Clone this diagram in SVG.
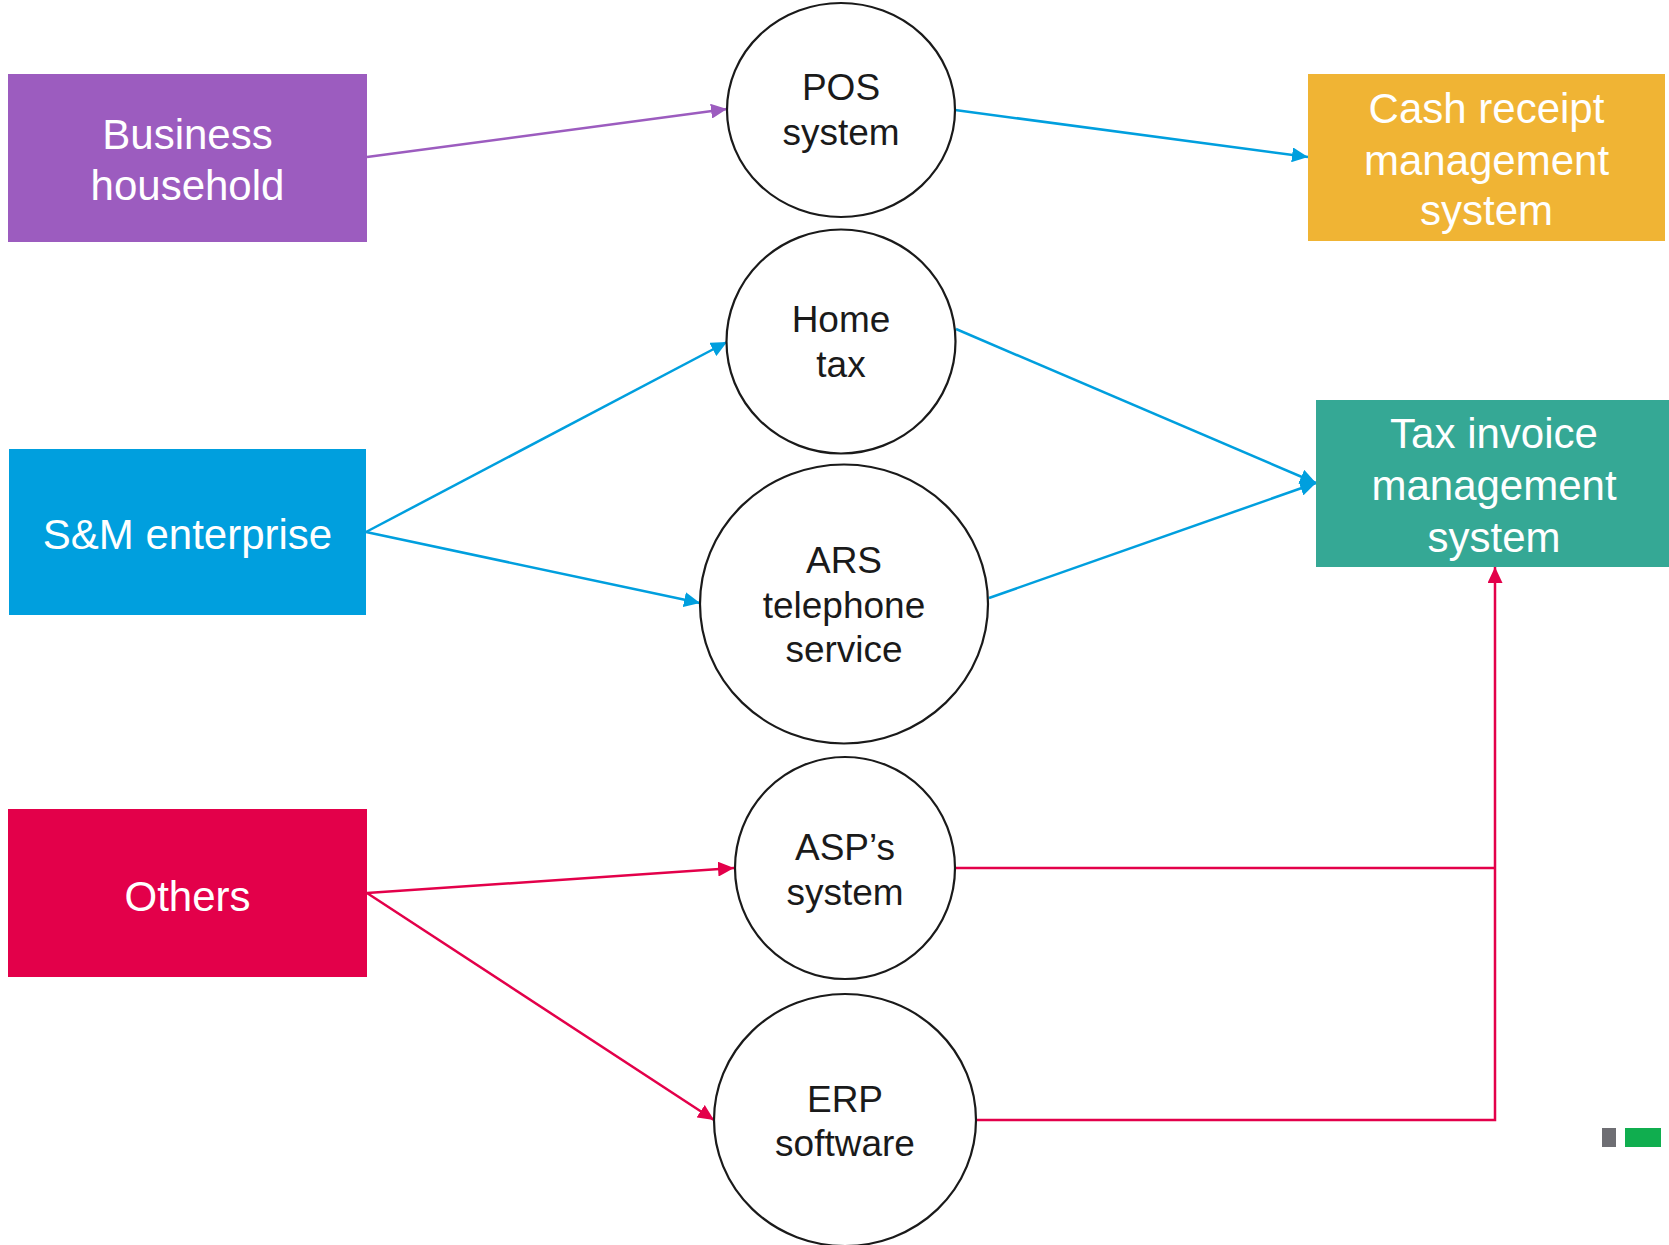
<svg xmlns="http://www.w3.org/2000/svg" width="1669" height="1245" viewBox="0 0 1669 1245">
  <style>
    .box-text { font-family: "Liberation Sans", Arial, sans-serif; font-size: 42px; fill: #ffffff; text-anchor: middle; }
    .node-text { font-family: "Liberation Sans", Arial, sans-serif; font-size: 37px; fill: #1a1a1a; text-anchor: middle; }
    .bubble { fill: #ffffff; stroke: #1a1a1a; stroke-width: 2.2; }
    .link { fill: none; stroke-width: 2.5; }
    .purple { stroke: #9c5cbf; }
    .blue { stroke: #009fde; }
    .red { stroke: #e3004a; }
  </style>
  <defs>
    <marker id="ah-purple" markerUnits="userSpaceOnUse" markerWidth="16" markerHeight="15" refX="16" refY="7.5" orient="auto">
      <path d="M0,0 L16,7.5 L0,15 z" fill="#9c5cbf"/>
    </marker>
    <marker id="ah-blue" markerUnits="userSpaceOnUse" markerWidth="16" markerHeight="15" refX="16" refY="7.5" orient="auto">
      <path d="M0,0 L16,7.5 L0,15 z" fill="#009fde"/>
    </marker>
    <marker id="ah-red" markerUnits="userSpaceOnUse" markerWidth="16" markerHeight="15" refX="16" refY="7.5" orient="auto">
      <path d="M0,0 L16,7.5 L0,15 z" fill="#e3004a"/>
    </marker>
  </defs>

  <rect width="1669" height="1245" fill="#ffffff"/>

  <!-- connectors -->
  <g id="connectors">
    <line class="link purple" x1="367" y1="157" x2="727" y2="109" marker-end="url(#ah-purple)"/>
    <line class="link blue" x1="955" y1="110" x2="1308" y2="157" marker-end="url(#ah-blue)"/>
    <line class="link blue" x1="366" y1="532" x2="727" y2="342" marker-end="url(#ah-blue)"/>
    <line class="link blue" x1="366" y1="532" x2="700" y2="603" marker-end="url(#ah-blue)"/>
    <line class="link blue" x1="956" y1="329" x2="1316" y2="483" marker-end="url(#ah-blue)"/>
    <line class="link blue" x1="989" y1="598" x2="1316" y2="483" marker-end="url(#ah-blue)"/>
    <line class="link red" x1="367" y1="893" x2="734" y2="868" marker-end="url(#ah-red)"/>
    <line class="link red" x1="367" y1="893" x2="714" y2="1120" marker-end="url(#ah-red)"/>
    <polyline class="link red" points="955,868 1495,868"/>
    <polyline class="link red" points="976,1120 1495,1120 1495,567" marker-end="url(#ah-red)"/>
  </g>

  <!-- source boxes -->
  <g id="business-household">
    <rect x="8" y="74" width="359" height="168" fill="#9c5cbf"/>
    <text class="box-text" x="187.5" y="149">Business</text>
    <text class="box-text" x="187.5" y="200">household</text>
  </g>
  <g id="sm-enterprise">
    <rect x="9" y="449" width="357" height="166" fill="#009fde"/>
    <text class="box-text" x="187.5" y="549">S&amp;M enterprise</text>
  </g>
  <g id="others">
    <rect x="8" y="809" width="359" height="168" fill="#e3004a"/>
    <text class="box-text" x="187.5" y="911">Others</text>
  </g>

  <!-- channels -->
  <g id="pos-system">
    <ellipse class="bubble" cx="841" cy="110" rx="114" ry="107"/>
    <text class="node-text" x="841" y="100">POS</text>
    <text class="node-text" x="841" y="145">system</text>
  </g>
  <g id="home-tax">
    <ellipse class="bubble" cx="841" cy="341.5" rx="114.5" ry="112"/>
    <text class="node-text" x="841" y="332">Home</text>
    <text class="node-text" x="841" y="377">tax</text>
  </g>
  <g id="ars-telephone">
    <ellipse class="bubble" cx="844" cy="604" rx="144" ry="139.5"/>
    <text class="node-text" x="844" y="573">ARS</text>
    <text class="node-text" x="844" y="618">telephone</text>
    <text class="node-text" x="844" y="662">service</text>
  </g>
  <g id="asp-system">
    <ellipse class="bubble" cx="845" cy="868" rx="110" ry="111"/>
    <text class="node-text" x="845" y="860">ASP’s</text>
    <text class="node-text" x="845" y="905">system</text>
  </g>
  <g id="erp-software">
    <ellipse class="bubble" cx="845" cy="1120" rx="131" ry="126"/>
    <text class="node-text" x="845" y="1112">ERP</text>
    <text class="node-text" x="845" y="1156">software</text>
  </g>

  <!-- destination systems -->
  <g id="cash-receipt">
    <rect x="1308" y="74" width="357" height="167" fill="#f0b434"/>
    <text class="box-text" x="1486.5" y="123">Cash receipt</text>
    <text class="box-text" x="1486.5" y="175">management</text>
    <text class="box-text" x="1486.5" y="225">system</text>
  </g>
  <g id="tax-invoice">
    <rect x="1316" y="400" width="353" height="167" fill="#35a895"/>
    <text class="box-text" x="1494" y="448">Tax invoice</text>
    <text class="box-text" x="1494" y="500">management</text>
    <text class="box-text" x="1494" y="552">system</text>
  </g>

  <!-- corner badge -->
  <g id="badge">
    <rect x="1602" y="1128" width="14" height="19" fill="#6e6e73"/>
    <rect x="1625" y="1128" width="36" height="19" fill="#10ae4f"/>
  </g>
</svg>
